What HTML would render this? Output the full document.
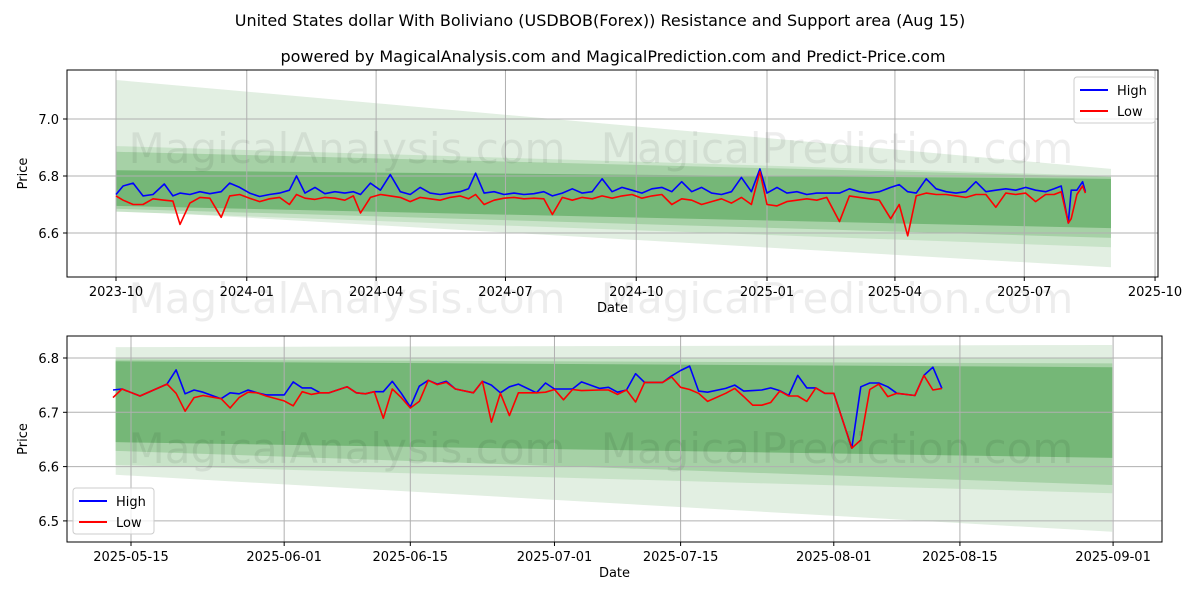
<!DOCTYPE html>
<html><head><meta charset="utf-8"><style>
body{margin:0;background:#fff;}
svg text{font-family:"DejaVu Sans","Liberation Sans",sans-serif;}
</style></head><body>
<svg id="c" width="1200" height="600" xmlns="http://www.w3.org/2000/svg">
<rect width="1200" height="600" fill="#fff"/>
<text x="600" y="26" text-anchor="middle" font-size="16">United States dollar With Boliviano (USDBOB(Forex)) Resistance and Support area (Aug 15)</text>
<text x="613" y="62" text-anchor="middle" font-size="16">powered by MagicalAnalysis.com and MagicalPrediction.com and Predict-Price.com</text>
<defs>
<clipPath id="ct"><rect x="67" y="70" width="1091" height="207"/></clipPath>
<clipPath id="cb"><rect x="67" y="336" width="1095" height="206"/></clipPath>
</defs>
<g id="top"></g>
<g id="bot"></g>
</svg>
<script>
// ---- top chart data (days since 2023-10-01) ----
const topDays=[0,5,12,19,26,34,40,45,52,59,66,74,80,87,94,101,108,115,122,127,133,140,147,154,161,167,172,179,186,193,200,207,214,221,228,235,242,248,253,259,266,273,280,287,294,301,307,314,321,328,335,342,349,356,363,370,377,384,391,398,405,412,419,426,433,440,447,453,458,465,472,479,486,493,500,509,516,523,530,537,545,551,557,563,570,577,584,591,598,605,612,619,626,633,640,647,654,660,665,670,672,676,680,682];
const topHigh=[6.735,6.765,6.775,6.730,6.735,6.772,6.730,6.740,6.735,6.745,6.738,6.745,6.775,6.760,6.740,6.728,6.735,6.740,6.750,6.800,6.740,6.760,6.738,6.745,6.740,6.745,6.735,6.775,6.750,6.805,6.745,6.735,6.760,6.740,6.735,6.740,6.745,6.755,6.810,6.740,6.745,6.735,6.740,6.735,6.738,6.745,6.730,6.740,6.755,6.740,6.745,6.790,6.745,6.760,6.750,6.740,6.755,6.760,6.745,6.780,6.745,6.760,6.740,6.735,6.745,6.795,6.745,6.825,6.740,6.760,6.740,6.745,6.735,6.740,6.740,6.740,6.755,6.745,6.740,6.745,6.760,6.770,6.745,6.740,6.790,6.755,6.745,6.740,6.745,6.780,6.745,6.750,6.755,6.750,6.760,6.750,6.745,6.755,6.765,6.635,6.750,6.750,6.780,6.745];
const topLow=[6.730,6.715,6.700,6.700,6.720,6.715,6.712,6.630,6.705,6.725,6.722,6.655,6.730,6.735,6.722,6.710,6.720,6.725,6.700,6.735,6.722,6.718,6.725,6.722,6.715,6.730,6.670,6.725,6.735,6.730,6.725,6.710,6.725,6.720,6.715,6.725,6.730,6.720,6.735,6.700,6.715,6.722,6.725,6.720,6.722,6.720,6.665,6.725,6.715,6.725,6.720,6.730,6.722,6.730,6.735,6.722,6.730,6.735,6.700,6.720,6.715,6.700,6.710,6.720,6.705,6.725,6.700,6.815,6.700,6.695,6.710,6.715,6.720,6.715,6.725,6.640,6.730,6.725,6.720,6.715,6.650,6.700,6.590,6.730,6.740,6.735,6.735,6.730,6.725,6.735,6.735,6.690,6.740,6.735,6.740,6.710,6.735,6.735,6.745,6.635,6.650,6.735,6.765,6.740];
const topYTicks=[6.6,6.8,7.0];
const topXTicks=["2023-10","2024-01","2024-04","2024-07","2024-10","2025-01","2025-04","2025-07","2025-10"];
// bands: [leftTop,leftBottom,rightTop,rightBottom]
const topBands=[[7.137,6.68,6.825,6.48],[6.905,6.675,6.80,6.55],[6.885,6.685,6.797,6.583],[6.82,6.695,6.79,6.617]];
// ---- bottom chart data (days since 2025-05-15) ----
const botDays=[-2,-1,1,4,5,6,7,8,10,11,12,13,14,15,17,18,19,20,21,22,24,25,26,27,28,29,30,31,32,33,34,35,36,38,39,40,41,42,43,45,46,47,48,49,50,52,53,54,55,56,57,59,60,61,62,63,64,66,67,68,69,70,71,72,73,74,75,76,77,78,80,81,82,83,84,85,87,88,89,90];
const botHigh=[6.741,6.743,6.730,6.752,6.778,6.734,6.741,6.737,6.725,6.736,6.734,6.741,6.736,6.732,6.732,6.756,6.745,6.745,6.736,6.736,6.747,6.736,6.734,6.738,6.738,6.757,6.735,6.710,6.748,6.759,6.752,6.757,6.743,6.736,6.757,6.750,6.736,6.747,6.752,6.736,6.754,6.743,6.743,6.743,6.756,6.744,6.746,6.737,6.741,6.771,6.755,6.755,6.767,6.777,6.785,6.739,6.737,6.744,6.750,6.739,6.740,6.741,6.745,6.740,6.731,6.768,6.745,6.745,6.735,6.735,6.634,6.747,6.754,6.754,6.747,6.735,6.731,6.768,6.783,6.744];
const botLow=[6.727,6.743,6.730,6.752,6.735,6.702,6.727,6.731,6.725,6.708,6.727,6.737,6.736,6.730,6.721,6.712,6.738,6.733,6.736,6.736,6.747,6.736,6.734,6.738,6.689,6.743,6.727,6.708,6.720,6.759,6.751,6.755,6.743,6.736,6.757,6.682,6.735,6.694,6.736,6.736,6.737,6.742,6.723,6.742,6.740,6.741,6.741,6.733,6.741,6.719,6.755,6.755,6.765,6.746,6.742,6.735,6.720,6.735,6.744,6.729,6.713,6.713,6.718,6.739,6.730,6.730,6.720,6.745,6.735,6.735,6.634,6.649,6.742,6.752,6.729,6.735,6.731,6.768,6.741,6.744];
const botYTicks=[6.5,6.6,6.7,6.8];
const botXTicks=["2025-05-15","2025-06-01","2025-06-15","2025-07-01","2025-07-15","2025-08-01","2025-08-15","2025-09-01"];
const botBands=[[6.820,6.585,6.824,6.480],[6.800,6.603,6.800,6.551],[6.797,6.629,6.790,6.566],[6.794,6.645,6.783,6.616]];
const bandColors=["#e2efe2","#c8e3c8","#a6d1a6","#75b777"];

const NS="http://www.w3.org/2000/svg";
function mk(tag,attrs,parent,txt){const e=document.createElementNS(NS,tag);for(const k in attrs)e.setAttribute(k,attrs[k]);if(txt!==undefined)e.textContent=txt;parent.appendChild(e);return e;}
function dayDiff(a,b){return (Date.parse(a)-Date.parse(b))/86400000;}

function panel(g,cfg){
  const {x0,x1,y0,y1,xs,ys,clip}=cfg;
  const pg=mk('g',{'clip-path':'url(#'+clip+')'},g);
  cfg.bands.forEach((b,i)=>{
    const xa=xs(cfg.bandStart),xb=xs(cfg.bandEnd);
    const p=mk('polygon',{points:`${xa},${ys(b[0])} ${xb},${ys(b[2])} ${xb},${ys(b[3])} ${xa},${ys(b[1])}`,fill:bandColors[i]},pg);
    
    
  });
  cfg.yt.forEach(v=>{const y=ys(v);
    mk('line',{x1:x0,x2:x1,y1:y,y2:y,stroke:'#b0b0b0','stroke-width':1},g);
    mk('line',{x1:x0-4,x2:x0,y1:y,y2:y,stroke:'#000'},g);
    const t=mk('text',{x:x0-8,y:y+5,'text-anchor':'end','font-size':13},g,v.toFixed(1));
    
    
  });
  cfg.xt.forEach(d=>{const x=xs(cfg.toDay(d));
    mk('line',{x1:x,x2:x,y1:y0,y2:y1,stroke:'#b0b0b0','stroke-width':1},g);
    mk('line',{x1:x,x2:x,y1:y1,y2:y1+4,stroke:'#000'},g);
    const t=mk('text',{x:x,y:y1+19,'text-anchor':'middle','font-size':13},g,d);
    
    
  });
  const lg2=mk('g',{'clip-path':'url(#'+clip+')'},g);
  const line=(vals,col,name)=>{
    const pts=cfg.days.map((d,i)=>xs(d).toFixed(1)+','+ys(vals[i]).toFixed(1)).join(' ');
    const p=mk('polyline',{points:pts,fill:'none',stroke:col,'stroke-width':1.6,'stroke-linejoin':'round'},lg2);
    
    
  };
  line(cfg.high,'#0000ff','high-line');
  line(cfg.low,'#ff0000','low-line');
  mk('rect',{x:x0,y:y0,width:x1-x0,height:y1-y0,fill:'none',stroke:'#000','stroke-width':1},g);
  const xl=mk('text',{x:(x0+x1)/2,y:y1+35,'text-anchor':'middle','font-size':13},g,'Date');
  
  
  const yl=mk('text',{x:27,y:(y0+y1)/2,'text-anchor':'middle','font-size':13,transform:`rotate(-90 27 ${(y0+y1)/2})`},g,'Price');
  
  
  const [lx,ly]=cfg.leg;
  const lg=mk('g',{},g);
  
  
  mk('rect',{x:lx,y:ly,width:81,height:46,rx:3,fill:'#fff','fill-opacity':0.8,stroke:'#ccc'},lg);
  mk('line',{x1:lx+6,x2:lx+34,y1:ly+13,y2:ly+13,stroke:'#0000ff','stroke-width':2},lg);
  mk('text',{x:lx+43,y:ly+18,'font-size':13},lg,'High');
  mk('line',{x1:lx+6,x2:lx+34,y1:ly+34,y2:ly+34,stroke:'#ff0000','stroke-width':2},lg);
  mk('text',{x:lx+43,y:ly+39,'font-size':13},lg,'Low');
  for(const w of cfg.wm){
    const t=mk('text',{x:w[0],y:w[1],'text-anchor':'middle','font-size':42,fill:'#000','fill-opacity':0.07},g,w[2]);
    
    
  }
}
const topStart="2023-10-01", botStart="2025-05-15";
panel(document.getElementById('top'),{
  x0:67,x1:1158,y0:70,y1:277,clip:'ct',
  xs:d=>116+d*1.4214, ys:v=>176-(v-6.8)*285,
  toDay:s=>dayDiff(s+"-01",topStart),
  xt:topXTicks, yt:topYTicks, days:topDays, high:topHigh, low:topLow,
  bands:topBands, bandStart:0, bandEnd:700,
  wm:[[347,163,'MagicalAnalysis.com'],[837,163,'MagicalPrediction.com'],[347,313,'MagicalAnalysis.com'],[837,313,'MagicalPrediction.com']],
  leg:[1074,77]
});
panel(document.getElementById('bot'),{
  x0:67,x1:1162,y0:336,y1:542,clip:'cb',
  xs:d=>131+d*9.01, ys:v=>358-(v-6.8)*543,
  toDay:s=>dayDiff(s,botStart),
  xt:botXTicks, yt:botYTicks, days:botDays, high:botHigh, low:botLow,
  bands:botBands, bandStart:-1.7, bandEnd:108.9,
  wm:[[347,463,'MagicalAnalysis.com'],[837,463,'MagicalPrediction.com']],
  leg:[73,488]
});
</script>
</body></html>
